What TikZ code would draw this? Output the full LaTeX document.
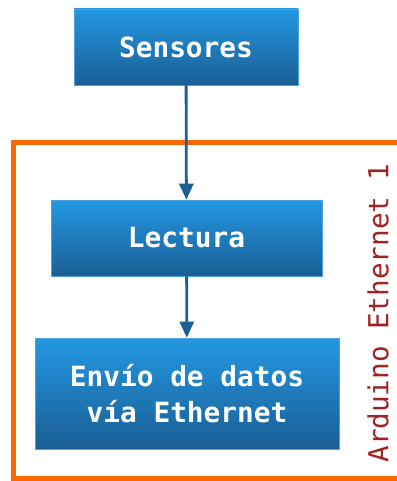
\documentclass[tikz,border=0pt]{standalone}
\usepackage{fontspec}
\newfontfamily\boxfont{DejaVu Sans Mono}
\usetikzlibrary{arrows.meta}
\definecolor{boxtop}{HTML}{2497E2}
\definecolor{boxbot}{HTML}{1A5E94}
\definecolor{boxedge}{HTML}{4FA3DC}
\definecolor{flowblue}{HTML}{1B5F93}
\definecolor{frameorange}{HTML}{FF6600}
\definecolor{labelred}{HTML}{9E2424}

\begin{document}
\begin{tikzpicture}[x=1pt,y=-1pt]
      \tikzset{step box/.style = {rectangle, draw=boxedge, line width=0.6pt,
          top color=boxtop, bottom color=boxbot, text=white,
          font=\boxfont\fontsize{27.8}{36}\selectfont\bfseries, align=center,
          inner sep=0pt}}
      \tikzset{flow/.style = {-{Triangle[width=14pt,length=16pt]}, draw=flowblue, line width=2.8pt}}
      \useasboundingbox (0,0) rectangle (396,481);

      % marco del Arduino
      \draw[frameorange, line width=5pt, line join=miter]
        (400,142.5) -- (13,142.5) -- (13,478) -- (400,478);
      \node[rotate=90, text=labelred, font=\boxfont\fontsize{27.6}{30}\selectfont]
        (arduino) at (378,313) {Arduino Ethernet 1};

      \node[step box, minimum width=224pt, minimum height=76pt] (sensores) at (186,47) {Sensores};
      \node[step box, minimum width=271pt, minimum height=76pt] (lectura) at (186.5,238) {Lectura};
      \node[step box, minimum width=304pt, minimum height=111pt] (envio) at (187,393.5)
        {Envío de datos\\vía Ethernet};

      \draw[flow] (sensores) -- (lectura);
      \draw[flow] (lectura) -- (envio);
    \end{tikzpicture}
\end{document}
